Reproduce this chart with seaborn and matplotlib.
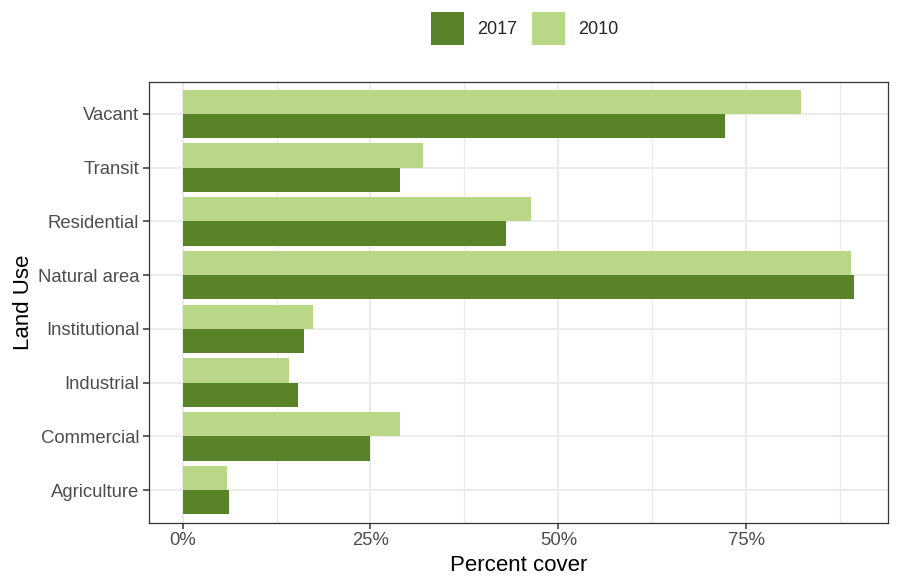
import pandas as pd
import numpy as np
import matplotlib
matplotlib.use("Agg")
import matplotlib.pyplot as plt
import matplotlib.patches as mpatches
from matplotlib.ticker import FixedLocator, FuncFormatter
import seaborn as sns

# Data (percent cover by land use)
land_use = ['Vacant', 'Transit', 'Residential', 'Natural area',
            'Institutional', 'Industrial', 'Commercial', 'Agriculture']
cover_2017 = [72.2, 28.9, 43.1, 89.4, 16.1, 15.4, 24.9, 6.2]
cover_2010 = [82.3, 32.0, 46.3, 89.0, 17.4, 14.1, 28.9, 5.9]
years = ['2017', '2010']
colors = {'2017': '#5A8229', '2010': '#B8D888'}

df = pd.DataFrame({
    'Land Use': land_use * 2,
    'Percent cover': cover_2017 + cover_2010,
    'Year': ['2017'] * len(land_use) + ['2010'] * len(land_use),
})

sns.set_theme(style='white')
plt.rcParams['font.family'] = ['Liberation Sans', 'DejaVu Sans']

fig = plt.figure(figsize=(8.98, 5.83), dpi=100)
ax = fig.add_axes([149 / 898, 1 - 522.5 / 583, (888 - 149) / 898, (522.5 - 81.5) / 583])

sns.barplot(data=df, x='Percent cover', y='Land Use', hue='Year',
            order=land_use, hue_order=['2010', '2017'], palette=colors,
            orient='h', width=0.9, gap=0, linewidth=0, saturation=1,
            errorbar=None, ax=ax, legend=False, zorder=3)

xmax = max(cover_2017 + cover_2010)
pad = xmax * 0.05
ax.set_xlim(-pad, xmax + pad)
ax.set_ylim(len(land_use) - 0.4, -0.6)

# grid like theme_bw
ax.xaxis.set_major_locator(FixedLocator([0, 25, 50, 75]))
ax.xaxis.set_major_formatter(FuncFormatter(lambda v, p: f'{v:.0f}%'))
ax.xaxis.set_minor_locator(FixedLocator([12.5, 37.5, 62.5, 87.5]))
ax.grid(True, which='major', color='#EBEBEB', linewidth=1.4, zorder=0)
ax.grid(True, which='minor', axis='x', color='#EBEBEB', linewidth=0.8, zorder=0)
ax.set_axisbelow(True)

for s in ax.spines.values():
    s.set_color('#333333')
    s.set_linewidth(0.9)

ax.tick_params(axis='both', which='major', length=4, width=1.1, color='#333333',
               labelsize=13.3, labelcolor='#4D4D4D', pad=3,
               bottom=True, left=True)
ax.tick_params(axis='x', which='minor', length=0)

ax.set_xlabel('Percent cover', fontsize=16, color='black', labelpad=4)
ax.set_ylabel('Land Use', fontsize=16, color='black', labelpad=3)

handles = [mpatches.Patch(facecolor=colors[y], edgecolor='none', label=y) for y in years]
fig.legend(handles=handles, loc='center', bbox_to_anchor=(524.5 / 898, 1 - 28.5 / 583),
           ncol=2, frameon=False, fontsize=13, handlelength=1.83, handleheight=2.45,
           handletextpad=0.72, columnspacing=0.83, borderpad=0)

fig.savefig('out.png', dpi=100)
